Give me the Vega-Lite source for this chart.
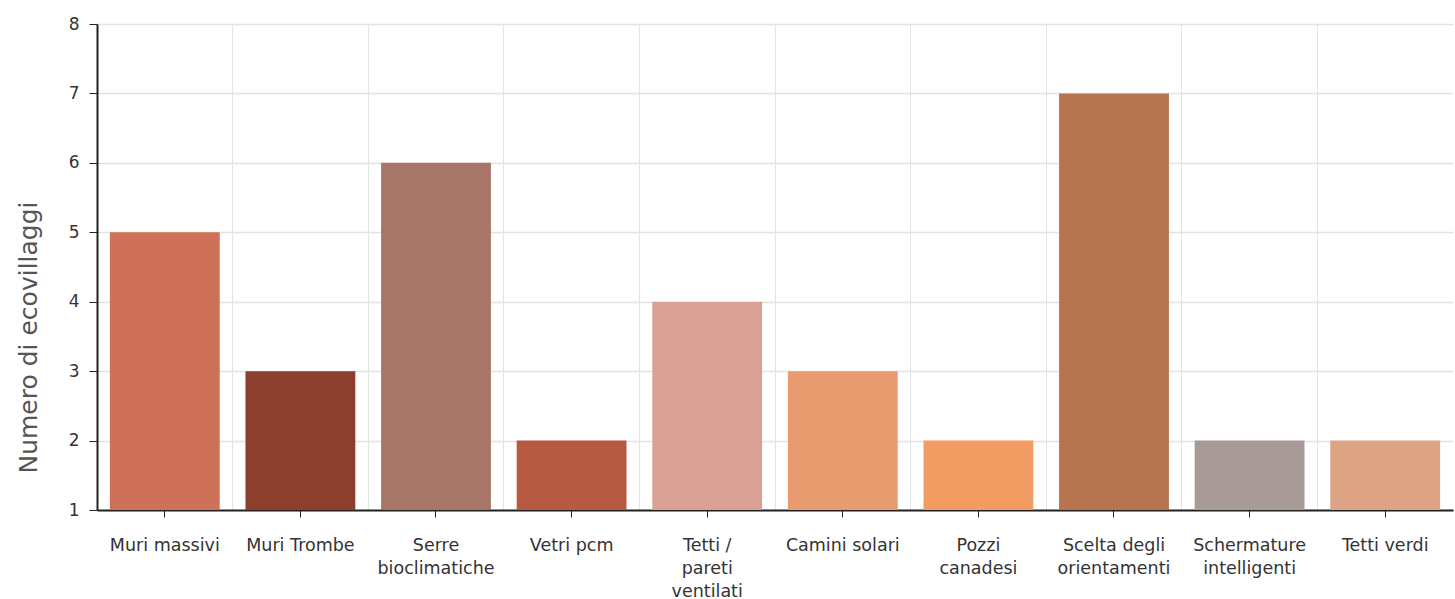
{
  "$schema": "https://vega.github.io/schema/vega-lite/v6.json",
  "autosize": "none",
  "width": 1356,
  "height": 486,
  "padding": {"left": 97, "top": 24, "right": 2, "bottom": 89},
  "background": "white",
  "config": {
    "view": {"stroke": null},
    "font": "DejaVu Sans",
    "axis": {"labelFont": "DejaVu Sans", "titleFont": "DejaVu Sans"}
  },
  "data": {
    "values": [
      {"categoria": "Muri massivi", "ecovillaggi": 5},
      {"categoria": "Muri Trombe", "ecovillaggi": 3},
      {"categoria": "Serre bioclimatiche", "ecovillaggi": 6},
      {"categoria": "Vetri pcm", "ecovillaggi": 2},
      {"categoria": "Tetti / pareti ventilati", "ecovillaggi": 4},
      {"categoria": "Camini solari", "ecovillaggi": 3},
      {"categoria": "Pozzi canadesi", "ecovillaggi": 2},
      {"categoria": "Scelta degli orientamenti", "ecovillaggi": 7},
      {"categoria": "Schermature intelligenti", "ecovillaggi": 2},
      {"categoria": "Tetti verdi", "ecovillaggi": 2}
    ]
  },
  "resolve": {"axis": {"x": "independent"}},
  "layer": [
    {
      "mark": {"type": "bar", "opacity": 0},
      "encoding": {
        "x": {
          "field": "categoria", "type": "nominal", "sort": null,
          "scale": {"paddingInner": 0.19, "paddingOuter": 0.095},
          "axis": {"orient": "bottom", "bandPosition": -0.117, "grid": true, "gridColor": "#e1e5ea", "gridWidth": 1, "labels": false, "ticks": false, "domain": false, "title": null}
        },
        "y": {
          "field": "ecovillaggi", "type": "quantitative",
          "scale": {"domain": [1, 8], "nice": false, "zero": false},
          "axis": {
            "title": "Numero di ecovillaggi",
            "titleFontSize": 25,
            "titleFontWeight": "normal",
            "titleColor": "#555555",
            "titleX": -69,
            "titleY": 313,
            "titleAngle": -90,
            "titleAlign": "center",
            "titleBaseline": "middle",
            "values": [1, 2, 3, 4, 5, 6, 7, 8],
            "format": "d",
            "labelFontSize": 17,
            "labelColor": "#333333",
            "labelPadding": 10,
            "tickSize": 8,
            "tickColor": "#222222",
            "domainColor": "#222222",
            "domainWidth": 2,
            "grid": true,
            "gridColor": "#e3e3e3",
            "gridWidth": 1.5
          }
        },
        "y2": {"datum": 1}
      }
    },
    {
      "mark": {"type": "bar"},
      "encoding": {
        "x": {
          "field": "categoria", "type": "nominal", "sort": null,
          "scale": {"paddingInner": 0.19, "paddingOuter": 0.095},
          "axis": {
            "orient": "bottom",
            "title": null,
            "labelAngle": 0,
            "labelFontSize": 17.5,
            "labelColor": "#333333",
            "labelPadding": 19,
            "labelLineHeight": 23,
            "labelBaseline": "top",
            "domainColor": "#222222",
            "domainWidth": 2,
            "tickColor": "#222222",
            "tickSize": 7,
            "grid": false,
            "labelExpr": "datum.value == 'Serre bioclimatiche' ? ['Serre', 'bioclimatiche'] : datum.value == 'Tetti / pareti ventilati' ? ['Tetti /', 'pareti', 'ventilati'] : datum.value == 'Pozzi canadesi' ? ['Pozzi', 'canadesi'] : datum.value == 'Scelta degli orientamenti' ? ['Scelta degli', 'orientamenti'] : datum.value == 'Schermature intelligenti' ? ['Schermature', 'intelligenti'] : datum.value"
          }
        },
        "y": {"field": "ecovillaggi", "type": "quantitative"},
        "y2": {"datum": 1},
        "color": {
          "field": "categoria", "type": "nominal", "legend": null,
          "scale": {
            "domain": ["Muri massivi", "Muri Trombe", "Serre bioclimatiche", "Vetri pcm", "Tetti / pareti ventilati", "Camini solari", "Pozzi canadesi", "Scelta degli orientamenti", "Schermature intelligenti", "Tetti verdi"],
            "range": ["#cf7059", "#8d3f2e", "#a87569", "#b65b42", "#d9a193", "#e89b6f", "#f29b63", "#b6744f", "#a89b97", "#dca384"]
          }
        }
      }
    }
  ]
}
